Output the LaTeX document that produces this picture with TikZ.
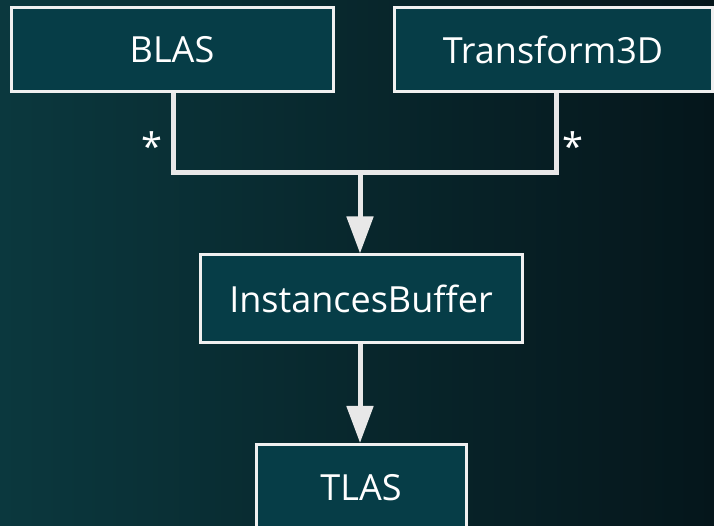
\documentclass[tikz,border=0pt]{standalone}
\usepackage{fontspec}
\setmainfont{Open Sans}
\usetikzlibrary{arrows.meta}
\definecolor{bgL}{RGB}{11,56,62}
\definecolor{bgR}{RGB}{5,22,27}
\definecolor{boxfill}{RGB}{6,61,71}
\definecolor{boxline}{RGB}{240,240,240}
\definecolor{connc}{RGB}{232,232,232}
\begin{document}
\begin{tikzpicture}[x=1pt,y=1pt,
  box/.style={draw=boxline, line width=3pt, fill=boxfill, text=white, font=\fontsize{36}{42}\selectfont, inner sep=0pt},
  conn/.style={draw=connc, line width=5pt},
  mult/.style={text=white, font=\fontsize{38}{44}\selectfont, inner sep=0pt}]
\shade[left color=bgL, right color=bgR] (0,0) rectangle (714,526);
\useasboundingbox (0,0) rectangle (714,526);
\node[box, minimum width=322, minimum height=84] (blas) at (172,476.5) {BLAS};
\node[box, minimum width=318, minimum height=84] (tr) at (553,476.5) {Transform3D};
\node[box, minimum width=322, minimum height=88] (ib) at (361,227) {InstancesBuffer};
\node[box, minimum width=210, minimum height=87, anchor=north] (tlas) at (361,83) {TLAS};
\coordinate (j1) at (173,353);
\coordinate (j2) at (556,353);
\coordinate (jm) at (360,353);
\draw[conn] (blas.south -| j1) -- (j1) -- (j2) -- (tr.south -| j2);
\draw[conn, -{Triangle[width=26pt,length=37pt]}] (jm) -- (ib.north -| jm);
\draw[conn, -{Triangle[width=26pt,length=37pt]}] (ib.south -| jm) -- (tlas.north -| jm);
\node[mult] (s1) at (152,380) {*};
\node[mult] (s2) at (573,380) {*};
\end{tikzpicture}
\end{document}
